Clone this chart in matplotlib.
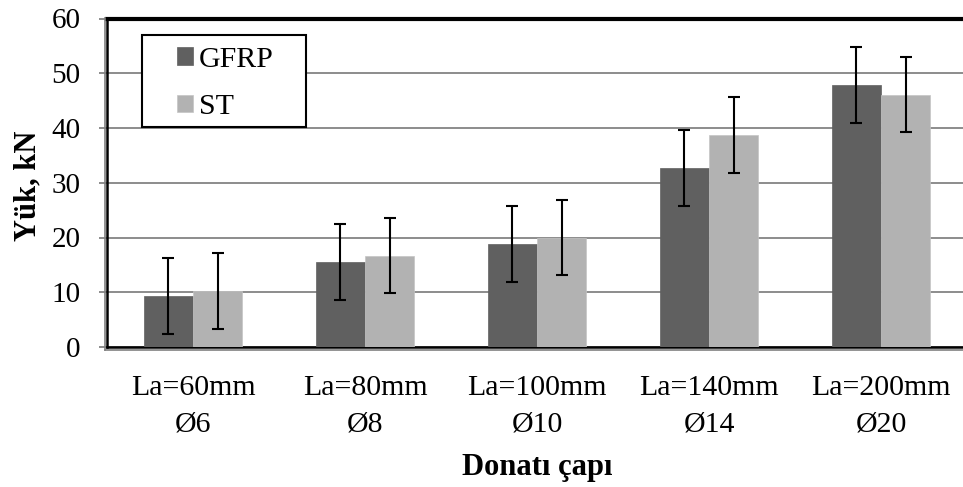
import matplotlib
matplotlib.use("Agg")
import matplotlib.pyplot as plt
from matplotlib.lines import Line2D
from matplotlib.patches import Rectangle
import numpy as np

plt.rcParams['font.family'] = ['Liberation Serif', 'DejaVu Serif']

categories = ["La=60mm\nØ6", "La=80mm\nØ8", "La=100mm\nØ10", "La=140mm\nØ14", "La=200mm\nØ20"]
gfrp = [9.3, 15.5, 18.8, 32.7, 47.9]
st = [10.2, 16.7, 20.0, 38.7, 46.1]
gfrp_err = [6.9, 6.9, 6.9, 6.9, 6.9]
st_err = [6.9, 6.9, 6.9, 6.9, 6.9]
series_names = ["GFRP", "ST"]
yticks = [0, 10, 20, 30, 40, 50, 60]

W, H = 963, 487
fig = plt.figure(figsize=(W / 100, H / 100), dpi=100)
ax = fig.add_axes([107 / W, 1 - 347 / H, (967 - 107) / W, (347 - 18.5) / H])

x = np.arange(len(categories))
w = 0.285
err_kw = dict(ecolor='black', elinewidth=1.5, capsize=4.5, capthick=1.5)
ax.bar(x - w / 2, gfrp, w, yerr=gfrp_err, color='#606060', edgecolor='#606060',
       linewidth=0.5, label=series_names[0], error_kw=err_kw, zorder=3)
ax.bar(x + w / 2, st, w, yerr=st_err, color='#b2b2b2', edgecolor='#c4c4c4',
       linewidth=0.5, label=series_names[1], error_kw=err_kw, zorder=3)

ax.set_xlim(-0.5, len(categories) - 0.5)
ax.set_ylim(0, 60)
ax.set_yticks(yticks)
ax.set_yticklabels([str(v) for v in yticks], fontsize=21)
ax.set_xticks(x)
ax.set_xticklabels(categories, fontsize=21.5, linespacing=1.55)
ax.tick_params(axis='x', length=0, pad=20)
ax.tick_params(axis='y', length=6, width=1.4, color='#8c8c8c', pad=13)
ax.yaxis.grid(True, color='#8c8c8c', linewidth=1.4, zorder=0)
ax.set_axisbelow(True)

for side in ('left', 'bottom'):
    ax.spines[side].set_color('black')
    ax.spines[side].set_linewidth(1.8)
ax.spines['top'].set_color('black')
ax.spines['top'].set_linewidth(3.0)
ax.spines['right'].set_visible(False)

# soft grey shadow lines beside the left and bottom axis lines
fig.add_artist(Line2D([104.5 / W, 104.5 / W], [1 - 350 / H, 1 - 18 / H],
                      color='#808080', linewidth=1.2))
fig.add_artist(Line2D([104.5 / W, 1.0], [1 - 350 / H, 1 - 350 / H],
                      color='#808080', linewidth=1.2))

# legend box
ax.add_patch(Rectangle((141.7 / W, 1 - 127 / H), (306 - 141.7) / W, (127 - 35) / H,
                       transform=fig.transFigure, facecolor='white',
                       edgecolor='black', linewidth=1.5, zorder=4, clip_on=False))
leg = ax.legend(loc='center left', bbox_to_anchor=(177 / W, 1 - 83.5 / H),
                bbox_transform=fig.transFigure, borderaxespad=0, borderpad=0,
                fontsize=21.5, handlelength=0.52, handleheight=0.52,
                handletextpad=0.22, labelspacing=0.72, frameon=False)
leg.set_zorder(6)

fig.text(28 / W, 1 - 186 / H, "Yük, kN", rotation=90, fontsize=22,
         fontweight='bold', ha='center', va='center')
fig.text(537 / W, 1 - 467 / H, "Donatı çapı", fontsize=22,
         fontweight='bold', ha='center', va='center')

fig.savefig("out.png", dpi=100)
